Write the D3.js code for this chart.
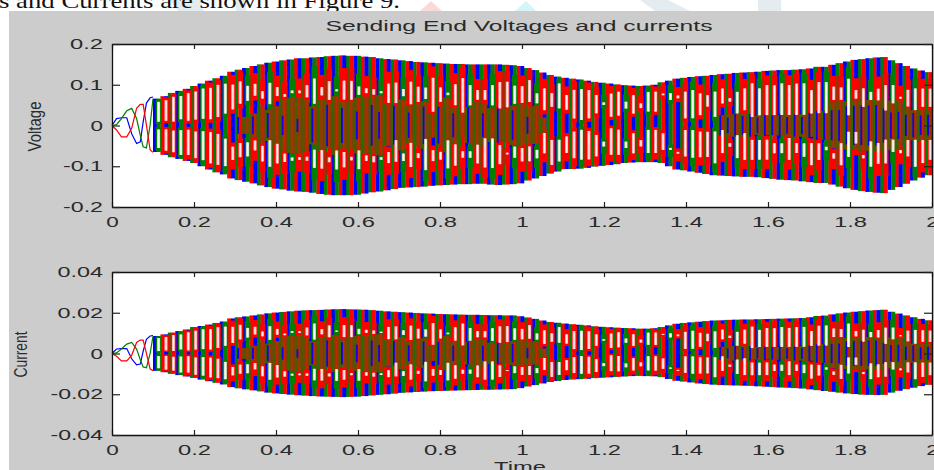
<!DOCTYPE html>
<html>
<head>
<meta charset="utf-8">
<script src="https://cdn.jsdelivr.net/npm/d3@7"></script>
<style>
  body { margin: 0; background: #fff; overflow: hidden; }
  svg { display: block; }
  text { font-family: "Liberation Sans", Arial, sans-serif; fill: #2a2a2a; }
</style>
</head>
<body>
<div id="grafico"></div>
<script>
// start of the run, before the strips get too dense (time, value per phase)
const startTime = [0, .011, .023, .036, .048, .060, .069, .076, .084, .093, .100];
const startBlue = [0, .017, .019, .019, -.020, -.044, -.040, .009, .055, .068, .070];
const startGreen = [0, .002, .017, .036, .042, .017, -.024, -.052, -.055, .001, .066];
const startRed = [0, -.011, -.028, -.028, -.007, .042, .052, .052, .001, -.060, -.066];
const startCurBlue = [0, .0022, .0024, .0024, -.0026, -.0056, -.0052, .0011, .0070, .0086, .0088];
const startCurGreen = [0, .0003, .0022, .0046, .0054, .0022, -.0031, -.0066, -.0070, .0001, .0084];
const startCurRed = [0, -.0014, -.0036, -.0036, -.0009, .0054, .0066, .0066, .0001, -.0076, -.0084];

// peak per cycle from t = 0.1 to t = 2
const voltTop = [.066,.072,.080,.085,.090, .097,.103,.110,.116,.122, .132,.137,.141,.146,.150, .154,.157,.160,.162,.165, .165,.167,.168,.170,.171,
  .172,.171,.171,.169,.168, .165,.163,.162,.160,.158, .156,.155,.154,.153,.152, .151,.151,.150,.150,.150, .150,.150,.149,.148,.146,
  .141,.136,.130,.124,.120, .117,.115,.113,.110,.107, .105,.103,.101,.099,.098, .097,.098,.100,.106,.110, .115,.117,.119,.121,.122,
  .124,.126,.127,.129,.130, .131,.132,.134,.135,.136, .136,.137,.138,.140,.144, .144,.149,.153,.157,.161, .163,.165,.167,.168,.160,
  .153,.146,.140,.135,.131];
const voltBot = [-.065,-.072,-.078,-.082,-.087, -.092,-.100,-.108,-.115,-.120, -.130,-.134,-.138,-.142,-.147, -.151,-.155,-.157,-.160,-.162, -.163,-.165,-.168,-.170,-.171,
  -.171,-.171,-.170,-.167,-.164, -.162,-.159,-.156,-.153,-.152, -.151,-.150,-.148,-.147,-.146, -.145,-.144,-.144,-.143,-.143, -.145,-.146,-.145,-.144,-.142,
  -.135,-.130,-.124,-.118,-.113, -.107,-.107,-.106,-.104,-.101, -.099,-.097,-.095,-.092,-.091, -.090,-.090,-.090,-.092,-.100, -.108,-.110,-.113,-.116,-.119,
  -.122,-.123,-.124,-.125,-.126, -.126,-.127,-.129,-.131,-.133, -.134,-.135,-.137,-.139,-.141, -.141,-.145,-.150,-.154,-.158, -.161,-.163,-.165,-.166,-.158,
  -.151,-.143,-.135,-.128,-.122];
const currTop = [.0086,.0094,.0103,.0110,.0118, .0130,.0135,.0142,.0150,.0157, .0172,.0178,.0182,.0187,.0192, .0197,.0201,.0204,.0207,.0210, .0212,.0213,.0214,.0216,.0217,
  .0218,.0217,.0216,.0215,.0213, .0210,.0207,.0205,.0203,.0201, .0199,.0197,.0196,.0194,.0193, .0192,.0191,.0190,.0190,.0189, .0188,.0188,.0187,.0187,.0183,
  .0177,.0170,.0162,.0155,.0151, .0147,.0144,.0141,.0138,.0134, .0131,.0129,.0127,.0125,.0124, .0122,.0122,.0124,.0130,.0138, .0146,.0150,.0153,.0156,.0159,
  .0162,.0163,.0165,.0166,.0167, .0167,.0168,.0169,.0170,.0171, .0172,.0173,.0174,.0178,.0184, .0186,.0192,.0197,.0201,.0205, .0208,.0211,.0213,.0215,.0205,
  .0196,.0187,.0178,.0170,.0163];
const currBot = [-.0085,-.0092,-.0100,-.0106,-.0113, -.0120,-.0128,-.0136,-.0144,-.0152, -.0165,-.0171,-.0176,-.0181,-.0186, -.0192,-.0196,-.0199,-.0202,-.0205, -.0207,-.0209,-.0211,-.0212,-.0213,
  -.0214,-.0213,-.0212,-.0209,-.0206, -.0203,-.0200,-.0197,-.0193,-.0191, -.0189,-.0187,-.0185,-.0184,-.0183, -.0182,-.0181,-.0180,-.0179,-.0178, -.0178,-.0177,-.0176,-.0175,-.0170,
  -.0162,-.0155,-.0147,-.0140,-.0135, -.0130,-.0128,-.0126,-.0124,-.0121, -.0119,-.0117,-.0115,-.0113,-.0111, -.0110,-.0111,-.0112,-.0116,-.0125, -.0134,-.0138,-.0142,-.0147,-.0150,
  -.0153,-.0155,-.0156,-.0157,-.0158, -.0159,-.0161,-.0163,-.0165,-.0167, -.0168,-.0170,-.0172,-.0176,-.0180, -.0184,-.0188,-.0192,-.0196,-.0199, -.0202,-.0203,-.0204,-.0203,-.0192,
  -.0183,-.0175,-.0168,-.0160,-.0154];

// gaps between the traces, percent of the local peak (same pattern in both panels)
const upOuter = [88,86,88,85,88,86,88,84,86, 84,76,79,69,70,56,68,60,48,53,52, 60,69,56,64,52, 64,64,56,54,53, 51,63,65,56,68, 61,60,76,61,53, 67,77,66,58,58, 66,71,72,66,66,
  79,58,70,64,86, 64,76,79,79,70, 54,76,82,59,76, 56,84,83,74,72, 64,71,73,65,61, 67,72,53,64,70, 79,69,74,73,76, 73,75,75,62,74, 74,64,61,73,54, 56,50,54,59,62, 46,60,65,67,69];
const upInner = [14,16,12,18,13,15,16,14,18, 24,30,39,43,50,44,34,46,44,49,48, 42,32,44,37,49, 37,37,44,47,45, 48,34,34,45,33, 37,42,22,38,49, 33,21,33,42,42, 33,28,30,36,38,
  41,40,29,37,35, 33,15,12,16,28, 48,21,24,42,30, 44,35,34,70,57, 58,15,15,21,38, 17,43,46,23,29, 16,19,19,19,19, 19,19,19,21,21, 21,42,41,16,41, 28,38,37,22,34, 43,32,27,34,35];
const lowInner = [15,13,16,14,12,16,14,15,18, 27,40,32,30,26,34,24,29,44,49,48, 47,36,36,46,36, 38,45,36,44,46, 48,41,23,45,28, 45,22,41,44,25, 32,44,44,33,22, 22,33,46,36,39,
  38,46,15,30,31, 25,14,10,13,23, 40,7,11,43,21, 40,12,12,21,55, 60,10,10,13,13, 12,9,35,19,15, 28,28,27,33,33, 23,32,32,31,31, 37,47,29,10,10, 45,24,26,21,22, 40,25,26,28,29];
const lowOuter = [85,86,84,88,83,87,85,86,84, 83,65,58,55,43,60,67,60,57,54,52, 53,63,63,53,63, 60,50,63,52,55, 52,58,57,57,67, 53,73,59,57,72, 68,55,55,65,72, 72,65,49,55,62,
  65,62,55,82,78, 63,75,79,80,75, 52,74,76,60,75, 57,75,75,65,60, 64,69,70,67,65, 76,55,42,64,67, 67,66,65,52,51, 63,50,56,70,60, 43,56,65,50,28, 50,62,57,56,41, 45,53,75,72,69];
// dark band around zero and the blue streaks inside it, percent of the local peak
const coreSpan = [0,0,0,0,0,0,0,0,0,0,0,0, 15,20,30,25,30,40,42,42,38,28, 38,33,42,33,35,40,42,42,45,32,30,40,30,34,38,20,32,45,30,20,30,38,36,28,25,
  28,33,36,33,35,15, 0,0,0,0,0,0,0,0,0,0,0,0,0,0,0,0,0,0,0,0,0,0,0, 20,22,22,22,16,18,18,18,18,20,20,20,20, 20,25,38,38,38,38,38,38,38,38,38,40, 30,27,30,30];
const blueSpan = [0,0,0,0,0,0,0,0,0,0,0, 15,0,15,0,20,0,15,0,10,0,25, 0,30,0,25,0,20,0,30,20, 0,30,0,20,0,30,0,30,0,20,0,30,0,20,0,30,
  0,25,0,15,0,0, 0,0,0,0,0,0,0,0,0,0,0,0,0,0,0,0,0,0,0,0,0,0,0, 20,15,22,18,22,15,20,18,22,15,20,15,22, 25,25,25,25,30,30,30,30,30,25,20,22, 18,22,18,20];

const phases = ["blue", "green", "red"];
const phaseColor = { blue: "#0000ff", green: "#007f00", red: "#ff0000" };
const xTicks = [0, .2, .4, .6, .8, 1, 1.2, 1.4, 1.6, 1.8, 2];
const voltTicks = [-.2, -.1, 0, .1, .2];
const currTicks = [-.04, -.02, 0, .02, .04];
const texto = "s and Currents are shown in Figure 9.";

const svg = d3.select("#grafico").append("svg").attr("width", 934).attr("height", 470);

// pale watermark behind the page text
const marcas = [
  ["#e4ecf0", "170,0 200,0 204,11 178,11"], ["#e4ecf0", "236,0 246,0 246,11 236,11"],
  ["#fbd9d9", "431,1 442,11 420,11"], ["#d4f4f6", "526,1 536,11 515,11"],
  ["#e4ecf0", "640,0 668,0 690,11 655,11"], ["#e4ecf0", "758,0 781,0 781,11 758,11"]
];
svg.selectAll(".marca").data(marcas).enter().append("polygon")
  .attr("fill", d => d[0]).attr("points", d => d[1]);

svg.append("text").attr("x", -1).attr("y", 8).attr("font-size", 21)
  .style("font-family", "Liberation Serif").style("fill", "#111")
  .attr("textLength", 401).attr("lengthAdjust", "spacingAndGlyphs").text(texto);

svg.append("rect").attr("x", 9).attr("y", 11).attr("width", 925).attr("height", 459).attr("fill", "#cccccc");

const blur = svg.append("filter").attr("id", "suave");
blur.append("feGaussianBlur").attr("stdDeviation", 0.25);

const xLeft = 112, xRight = 932;
const x = d3.scaleLinear().domain([0, 2]).range([xLeft, xRight]);

function anchoEtiqueta(s) {
  let w = 0;
  for (const c of s) w += c === "." ? 8 : c === "-" ? 7 : 12.5;
  return w;
}

function panel(cfg) {
  const y = d3.scaleLinear().domain(cfg.domain).range([cfg.bottom, cfg.top]);
  const g = svg.append("g");

  g.append("rect").attr("x", xLeft).attr("y", cfg.top).attr("width", xRight - xLeft)
    .attr("height", cfg.bottom - cfg.top).attr("fill", "#fff");

  const marks = g.append("g").attr("filter", "url(#suave)");

  const cols = d3.scaleBand().domain(d3.range(cfg.tops.length)).range([x(.1), x(2)]);
  const filas = cfg.tops.map((t, i) => ({ i, t, b: cfg.bots[i] }));
  const ancho = cols.bandwidth();

  // two phase strips per cycle, colours run blue, green, red across the cycles
  [0, 1].forEach(k => {
    marks.selectAll(".s" + k).data(filas).enter().append("rect")
      .attr("x", d => cols(d.i) + k * ancho / 2)
      .attr("width", ancho / 2 + .3)
      .attr("y", d => y(d.t))
      .attr("height", d => y(d.b) - y(d.t))
      .attr("fill", d => phaseColor[phases[(2 * d.i + k) % 3]]);
  });

  // red or green traces run along each gap, wider than the gap itself
  const verde = d => phases[(2 * d.i + 1) % 3] === "green";
  const huecos = [
    { hi: d => d.t * upOuter[d.i] / 100, lo: d => d.t * upInner[d.i] / 100, hi2: d => d.t * Math.min(upOuter[d.i] + 18, 96) / 100, lo2: d => d.t * Math.max(upInner[d.i] - 8, 0) / 100 },
    { hi: d => d.b * lowInner[d.i] / 100, lo: d => d.b * lowOuter[d.i] / 100, hi2: d => d.b * Math.max(lowInner[d.i] - 8, 0) / 100, lo2: d => d.b * Math.min(lowOuter[d.i] + 18, 96) / 100 }
  ];
  huecos.forEach(h => {
    marks.selectAll(".x").data(filas).enter().append("rect")
      .attr("x", d => cols(d.i) + ancho * .55 - 1.4).attr("width", 5.8)
      .attr("y", d => y(h.hi2(d)))
      .attr("height", d => y(h.lo2(d)) - y(h.hi2(d)))
      .attr("fill", d => verde(d) ? "#007f00" : "#ff0000");
  });

  // dark band around zero
  const nucleo = filas.filter(d => coreSpan[d.i] > 0);
  const alto = d => coreSpan[d.i] / 100;
  const raya = (clase, dx, w, color) => marks.selectAll(clase).data(nucleo).enter().append("rect")
    .attr("x", d => cols(d.i) + dx).attr("width", w)
    .attr("y", d => y(d.t * alto(d)))
    .attr("height", d => y(d.b * alto(d)) - y(d.t * alto(d)))
    .attr("fill", color);
  raya(".core", 0, ancho + .3, "#7a4400");
  raya(".coreGreen", ancho * .15, 1.6, "#2d6a00");
  raya(".coreRed", ancho * .6, 1.5, "#c42600");

  marks.selectAll(".coreBlue").data(filas.filter(d => blueSpan[d.i] > 0)).enter().append("rect")
    .attr("x", d => cols(d.i) + ancho * .35).attr("width", 1.8)
    .attr("y", d => y(d.t * blueSpan[d.i] / 100))
    .attr("height", d => y(d.b * blueSpan[d.i] / 100) - y(d.t * blueSpan[d.i] / 100))
    .attr("fill", "#1400e6");

  // the gaps, pink between red traces and pale green between green ones
  huecos.forEach(h => {
    marks.selectAll(".x").data(filas).enter().append("rect")
      .attr("x", d => cols(d.i) + ancho * .55).attr("width", 3)
      .attr("y", d => y(h.hi(d)))
      .attr("height", d => y(h.lo(d)) - y(h.hi(d)))
      .attr("fill", d => verde(d) ? "#dbe6cf" : "#ffbcbc");
    marks.selectAll(".x").data(filas).enter().append("rect")
      .attr("x", d => cols(d.i) + ancho * .55 + 1.1).attr("width", .9)
      .attr("y", d => y(h.hi(d)))
      .attr("height", d => y(h.lo(d)) - y(h.hi(d)))
      .attr("fill", "#fff");
  });

  // first cycles as plain lines
  const linea = d3.line().x((d, i) => x(startTime[i])).y(d => y(d));
  phases.forEach(ph => {
    marks.append("path").attr("d", linea(cfg.start[ph])).attr("fill", "none")
      .attr("stroke", phaseColor[ph]).attr("stroke-width", 1.2);
  });

  // axes, box with inward ticks on all four sides
  const ejes = [
    [d3.axisBottom(x).tickValues(xTicks).tickSizeInner(-5).tickSizeOuter(0).tickPadding(10).tickFormat(d => String(d)), `translate(0,${cfg.bottom})`, true],
    [d3.axisTop(x).tickValues(xTicks).tickSizeInner(-5).tickSizeOuter(0).tickFormat(""), `translate(0,${cfg.top})`, false],
    [d3.axisLeft(y).tickValues(cfg.ticks).tickSizeInner(-8).tickSizeOuter(0).tickPadding(9).tickFormat(d => String(d)), `translate(${xLeft},0)`, true],
    [d3.axisRight(y).tickValues(cfg.ticks).tickSizeInner(-8).tickSizeOuter(0).tickFormat(""), `translate(${xRight},0)`, false]
  ];
  ejes.forEach(([eje, tr, etiquetas]) => {
    const a = g.append("g").attr("transform", tr).call(eje);
    a.select(".domain").attr("stroke", "#111").attr("stroke-width", 1.3);
    a.selectAll(".tick line").attr("stroke", "#222").attr("stroke-width", 1.2);
    if (etiquetas) {
      a.selectAll("text")
        .style("font-size", "14.5px")
        .attr("textLength", function () { return anchoEtiqueta(this.textContent); })
        .attr("lengthAdjust", "spacingAndGlyphs");
    }
  });

  g.append("text")
    .attr("transform", `translate(${cfg.labelX},${(cfg.top + cfg.bottom) / 2 + 1}) rotate(-90)`)
    .attr("text-anchor", "middle").attr("font-size", 19)
    .attr("textLength", cfg.labelLen).attr("lengthAdjust", "spacingAndGlyphs")
    .text(cfg.label);
}

panel({
  top: 44, bottom: 207, domain: [-.2, .2], ticks: voltTicks,
  tops: voltTop, bots: voltBot, label: "Voltage", labelX: 41, labelLen: 50,
  start: { blue: startBlue, green: startGreen, red: startRed }
});
panel({
  top: 272, bottom: 435, domain: [-.04, .04], ticks: currTicks,
  tops: currTop, bots: currBot, label: "Current", labelX: 27, labelLen: 46,
  start: { blue: startCurBlue, green: startCurGreen, red: startCurRed }
});

svg.append("text").attr("x", 519).attr("y", 31).attr("text-anchor", "middle").attr("font-size", 14)
  .attr("textLength", 387).attr("lengthAdjust", "spacingAndGlyphs")
  .text("Sending End Voltages and currents");
svg.append("text").attr("x", 520).attr("y", 472).attr("text-anchor", "middle").attr("font-size", 15)
  .attr("textLength", 52).attr("lengthAdjust", "spacingAndGlyphs")
  .text("Time");
</script>
</body>
</html>
